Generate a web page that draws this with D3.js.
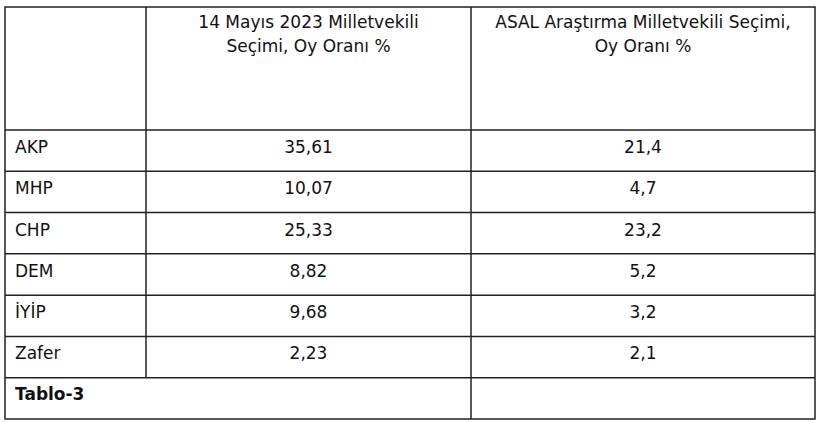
<!DOCTYPE html><html><head><meta charset="utf-8"><script src="https://cdn.jsdelivr.net/npm/d3@7"></script>
<style>body{margin:0;background:#fff}text{font-family:"DejaVu Sans",sans-serif;font-size:17px;fill:#111}</style></head><body><svg width="820" height="423"></svg>
<script>
const parties=["AKP","MHP","CHP","DEM","İYİP","Zafer"];
const election2023=["35,61","10,07","25,33","8,82","9,68","2,23"];
const asal=["21,4","4,7","23,2","5,2","3,2","2,1"];
const header1=["14 Mayıs 2023 Milletvekili","Seçimi, Oy Oranı %"];
const header2=["ASAL Araştırma Milletvekili Seçimi,","Oy Oranı %"];
const caption="Tablo-3";
const svg=d3.select("svg");
const xs=[5,146,471,815];
const y=d3.scaleLinear().domain([0,7]).range([130,419]);
const g=svg.append("g").attr("stroke","#222").attr("stroke-width",1.5);
g.append("rect").attr("x",xs[0]).attr("y",7).attr("width",xs[3]-xs[0]).attr("height",412).attr("fill","none");
d3.range(0,7).forEach(i=>g.append("line").attr("x1",xs[0]).attr("x2",xs[3]).attr("y1",y(i)).attr("y2",y(i)));
g.append("line").attr("x1",xs[1]).attr("x2",xs[1]).attr("y1",7).attr("y2",y(6));
g.append("line").attr("x1",xs[2]).attr("x2",xs[2]).attr("y1",7).attr("y2",419);
const c1=(xs[1]+xs[2])/2, c2=(xs[2]+xs[3])/2;
header1.forEach((t,i)=>svg.append("text").attr("x",c1).attr("y",28+i*24).attr("text-anchor","middle").text(t));
header2.forEach((t,i)=>svg.append("text").attr("x",c2).attr("y",28+i*24).attr("text-anchor","middle").text(t));
parties.forEach((p,i)=>{
 const by=y(i)+23;
 svg.append("text").attr("x",15).attr("y",by).text(p);
 svg.append("text").attr("x",c1).attr("y",by).attr("text-anchor","middle").text(election2023[i]);
 svg.append("text").attr("x",c2).attr("y",by).attr("text-anchor","middle").text(asal[i]);
});
svg.append("text").attr("x",15).attr("y",y(6)+22).attr("font-weight","bold").style("font-size","17px").text(caption);
</script></body></html>
